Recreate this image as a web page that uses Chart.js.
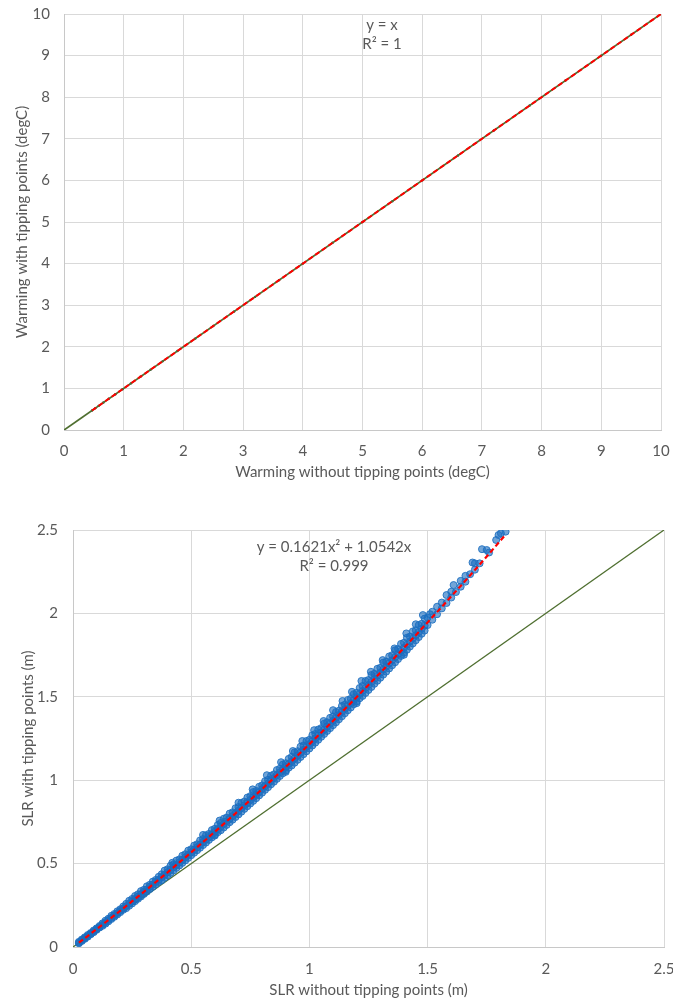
<!DOCTYPE html>
<html>
<head>
<meta charset="utf-8">
<script src="https://cdn.jsdelivr.net/npm/chart.js@4.4.1/dist/chart.umd.min.js"></script>
<style>
  html, body { margin: 0; padding: 0; background: #ffffff; }
  #wrap { position: relative; width: 673px; height: 1003px; }
  canvas { position: absolute; left: 0; }
  #warm { top: 0; }
  #slr { top: 490px; }
</style>
</head>
<body>
<div id="wrap">
  <canvas id="warm" width="673" height="490"></canvas>
  <canvas id="slr" width="673" height="513"></canvas>
</div>
<script>
// ---- Warming: with vs without tipping points (degC) ----
const warmingPairs = [
  [0.47,0.47],[0.52,0.52],[0.58,0.58],[0.66,0.66],[0.75,0.75],[0.86,0.86],[0.98,0.98],
  [1.12,1.12],[1.28,1.28],[1.45,1.45],[1.65,1.65],[1.9,1.9],[2.2,2.2],[2.5,2.5],
  [2.85,2.85],[3.2,3.2],[3.6,3.6],[4.0,4.0],[4.5,4.5],[5.0,5.0],[5.5,5.5],[6.0,6.0],
  [6.6,6.6],[7.2,7.2],[7.8,7.8],[8.4,8.4],[9.0,9.0],[9.5,9.5],[10.0,10.0]
];
const warmTicks = [0,1,2,3,4,5,6,7,8,9,10];
const warmTickLabels = ['0','1','2','3','4','5','6','7','8','9','10'];
const warmFitSlope = 1;          // y = x
const warmFitText = ['y = x', 'R\u00B2 = 1'];

// ---- Sea level rise: with vs without tipping points (m) ----
const slrPairs = [
  [0.025,0.022],[0.025,0.031],[0.0375,0.040],[0.0375,0.045],
  [0.05,0.049],[0.05,0.058],[0.0625,0.066],[0.0625,0.072],
  [0.075,0.076],[0.075,0.084],[0.0875,0.093],[0.0875,0.099],
  [0.1,0.103],[0.1,0.112],[0.1125,0.120],[0.1125,0.126],
  [0.125,0.127],[0.125,0.142],[0.1375,0.148],[0.1375,0.158],
  [0.15,0.154],[0.15,0.170],[0.1625,0.175],[0.1625,0.187],
  [0.175,0.181],[0.175,0.198],[0.1875,0.203],[0.1875,0.214],
  [0.2,0.209],[0.2,0.226],[0.2125,0.231],[0.2125,0.243],
  [0.225,0.233],[0.225,0.259],[0.2375,0.259],[0.2375,0.277],
  [0.25,0.261],[0.25,0.288],[0.2625,0.288],[0.2625,0.306],
  [0.275,0.289],[0.275,0.316],[0.2875,0.316],[0.2875,0.335],
  [0.3,0.318],[0.3,0.343],[0.3125,0.345],[0.3125,0.364],
  [0.325,0.347],[0.325,0.373],[0.3375,0.374],[0.3375,0.392],
  [0.35,0.376],[0.35,0.402],[0.3625,0.403],[0.3625,0.421],
  [0.375,0.400],[0.375,0.436],[0.3875,0.433],[0.3875,0.458],
  [0.4,0.430],[0.4,0.466],[0.4125,0.462],[0.4125,0.487],
  [0.425,0.459],[0.425,0.495],[0.4375,0.492],[0.4375,0.518],
  [0.45,0.489],[0.45,0.525],[0.4625,0.522],[0.4625,0.547],
  [0.475,0.519],[0.475,0.556],[0.4875,0.552],[0.4875,0.578],
  [0.5,0.550],[0.5,0.586],[0.5125,0.583],[0.5125,0.608],
  [0.525,0.580],[0.525,0.616],[0.5375,0.613],[0.5375,0.639],
  [0.55,0.611],[0.55,0.647],[0.5625,0.644],[0.5625,0.670],
  [0.575,0.642],[0.575,0.678],[0.5875,0.675],[0.5875,0.701],
  [0.6,0.673],[0.6,0.709],[0.6125,0.706],[0.6125,0.732],
  [0.625,0.700],[0.625,0.744],[0.6375,0.738],[0.6375,0.769],
  [0.65,0.732],[0.65,0.776],[0.6625,0.769],[0.6625,0.800],
  [0.675,0.763],[0.675,0.807],[0.6875,0.801],[0.6875,0.832],
  [0.7,0.795],[0.7,0.839],[0.7125,0.833],[0.7125,0.864],
  [0.725,0.828],[0.725,0.872],[0.7375,0.865],[0.7375,0.896],
  [0.75,0.860],[0.75,0.904],[0.7625,0.898],[0.7625,0.929],
  [0.775,0.892],[0.775,0.936],[0.7875,0.930],[0.7875,0.961],
  [0.8,0.925],[0.8,0.969],[0.8125,0.963],[0.8125,0.994],
  [0.825,0.958],[0.825,1.002],[0.8375,0.996],[0.8375,1.027],
  [0.85,0.991],[0.85,1.035],[0.8625,1.030],[0.8625,1.061],
  [0.875,1.025],[0.875,1.069],[0.8875,1.063],[0.8875,1.094],
  [0.9,1.058],[0.9,1.102],[0.9125,1.097],[0.9125,1.128],
  [0.925,1.088],[0.925,1.140],[0.9375,1.131],[0.9375,1.167],
  [0.95,1.122],[0.95,1.174],[0.9625,1.165],[0.9625,1.201],
  [0.975,1.156],[0.975,1.208],[0.9875,1.199],[0.9875,1.235],
  [1.0,1.190],[1.0,1.242],[1.0125,1.234],[1.0125,1.270],
  [1.025,1.225],[1.025,1.277],[1.0375,1.268],[1.0375,1.304],
  [1.05,1.260],[1.05,1.312],[1.0625,1.303],[1.0625,1.339],
  [1.075,1.295],[1.075,1.347],[1.0875,1.338],[1.0875,1.374],
  [1.1,1.330],[1.1,1.382],[1.1125,1.373],[1.1125,1.409],
  [1.125,1.365],[1.125,1.417],[1.1375,1.409],[1.1375,1.445],
  [1.15,1.401],[1.15,1.453],[1.1625,1.445],[1.1625,1.481],
  [1.175,1.436],[1.175,1.488],[1.1875,1.480],[1.1875,1.516],
  [1.2,1.472],[1.2,1.524],[1.2125,1.517],[1.2125,1.553],
  [1.225,1.505],[1.225,1.565],[1.2375,1.553],[1.2375,1.595],
  [1.25,1.541],[1.25,1.601],[1.2625,1.589],[1.2625,1.631],
  [1.275,1.578],[1.275,1.638],[1.2875,1.626],[1.2875,1.668],
  [1.3,1.614],[1.3,1.674],[1.3125,1.663],[1.3125,1.705],
  [1.325,1.651],[1.325,1.711],[1.3375,1.700],[1.3375,1.742],
  [1.35,1.689],[1.35,1.749],[1.3625,1.737],[1.3625,1.779],
  [1.375,1.726],[1.375,1.786],[1.3875,1.775],[1.3875,1.817],
  [1.4,1.764],[1.4,1.824],[1.4125,1.812],[1.4125,1.854],
  [1.425,1.801],[1.425,1.861],[1.4375,1.850],[1.4375,1.892],
  [1.45,1.839],[1.45,1.899],[1.4625,1.888],[1.4625,1.930],
  [1.475,1.878],[1.475,1.938],[1.4875,1.927],[1.4875,1.969],
  // runs lying close to the fitted curve
  [0.025,0.026],[0.0375,0.036],[0.05,0.053],[0.0625,0.062],[0.075,0.080],[0.0875,0.089],
  [0.1,0.107],[0.1125,0.117],[0.125,0.134],[0.1375,0.140],[0.15,0.162],[0.1625,0.168],
  [0.175,0.189],[0.1875,0.195],[0.2,0.217],[0.2125,0.223],[0.225,0.245],[0.2375,0.247],
  [0.25,0.274],[0.2625,0.275],[0.275,0.302],[0.2875,0.303],[0.3,0.331],[0.3125,0.332],
  [0.325,0.360],[0.3375,0.361],[0.35,0.389],[0.3625,0.390],[0.375,0.418],[0.3875,0.415],
  [0.4,0.448],[0.4125,0.444],[0.425,0.477],[0.4375,0.474],[0.45,0.507],[0.4625,0.504],
  [0.475,0.537],[0.4875,0.534],[0.5,0.568],[0.5125,0.565],[0.525,0.598],[0.5375,0.595],
  [0.55,0.629],[0.5625,0.626],[0.575,0.660],[0.5875,0.657],[0.6,0.691],[0.6125,0.688],
  [0.625,0.722],[0.6375,0.716],[0.65,0.754],[0.6625,0.748],[0.675,0.785],[0.6875,0.779],
  [0.7,0.817],[0.7125,0.811],[0.725,0.850],[0.7375,0.844],[0.75,0.882],[0.7625,0.876],
  [0.775,0.914],[0.7875,0.909],[0.8,0.947],[0.8125,0.942],[0.825,0.980],[0.8375,0.975],
  [0.85,1.013],[0.8625,1.008],[0.875,1.047],[0.8875,1.041],[0.9,1.080],[0.9125,1.075],
  [0.925,1.114],[0.9375,1.105],[0.95,1.148],[0.9625,1.139],[0.975,1.182],[0.9875,1.173],
  [1.0,1.216],[1.0125,1.208],[1.025,1.251],[1.0375,1.242],[1.05,1.286],[1.0625,1.277],
  [1.075,1.321],[1.0875,1.312],[1.1,1.356],[1.1125,1.347],[1.125,1.391],[1.1375,1.383],
  [1.15,1.427],[1.1625,1.419],[1.175,1.462],[1.1875,1.455],[1.2,1.498],[1.2125,1.491],
  [1.225,1.535],[1.2375,1.523],[1.25,1.571],[1.2625,1.559],[1.275,1.608],[1.2875,1.596],
  [1.3,1.644],[1.3125,1.633],[1.325,1.681],[1.3375,1.670],[1.35,1.719],[1.3625,1.707],
  [1.375,1.756],[1.3875,1.745],[1.4,1.794],[1.4125,1.782],[1.425,1.831],[1.4375,1.820],
  [1.45,1.869],[1.4625,1.858],[1.475,1.908],[1.4875,1.897],
  // sparse upper tail
  [1.5,1.930],[1.5,1.975],[1.51,1.995],[1.52,1.962],[1.52,2.010],
  [1.54,1.995],[1.54,2.040],[1.56,2.030],[1.56,2.065],[1.58,2.062],[1.58,2.110],
  [1.6,2.095],[1.6,2.130],[1.62,2.128],[1.61,2.170],[1.64,2.160],[1.64,2.195],
  [1.66,2.190],[1.66,2.225],[1.68,2.235],[1.69,2.305],[1.7,2.300],[1.7,2.262],
  [1.72,2.300],[1.73,2.385],[1.75,2.380],[1.76,2.365],[1.79,2.440],
  [1.8,2.470],[1.81,2.480],[1.83,2.490],
  // scattered runs above and below the band
  [0.42,0.505],[0.55,0.672],[0.62,0.758],[0.7,0.865],[0.76,0.945],[0.82,1.030],
  [0.88,1.108],[0.93,1.175],[0.97,1.235],[1.02,1.300],[1.06,1.355],[1.1,1.420],
  [1.14,1.475],[1.18,1.530],[1.22,1.595],[1.26,1.650],[1.31,1.720],[1.36,1.790],
  [1.41,1.880],[1.45,1.935],[1.48,1.990],
  [0.6,0.668],[0.9,1.050],[1.2,1.462],[1.4,1.752]
];
const slrTicks = [0,0.5,1,1.5,2,2.5];
const slrTickLabels = ['0','0.5','1','1.5','2','2.5'];
const slrFitA = 0.1621;   // x^2 coefficient
const slrFitB = 1.0542;   // x coefficient
const slrFitText = ['y = 0.1621x\u00B2 + 1.0542x', 'R\u00B2 = 0.999'];

// ---- shared styling ----
const FONT = 'Lato, "Open Sans", sans-serif';
const FONT_SIZE = 15;
const TEXT = '#595959';
const GRID = '#d9d9d9';
const AXIS = '#c8c8c8';
const GREEN = '#4F6F30';
const RED = '#FF0000';

const toPoints = pairs => pairs.map(p => ({ x: p[0], y: p[1] }));

function fitCurve(pairs, fn, steps) {
  const xs = pairs.map(p => p[0]);
  const lo = Math.min(...xs), hi = Math.max(...xs);
  const pts = [];
  for (let i = 0; i <= steps; i++) {
    const x = lo + (hi - lo) * i / steps;
    pts.push({ x, y: fn(x) });
  }
  return pts;
}

function equationPlugin(lines, positions) {
  return {
    id: 'equationText',
    afterDraw(chart) {
      const c = chart.ctx;
      c.save();
      c.font = FONT_SIZE + 'px ' + FONT;
      c.fillStyle = TEXT;
      c.textAlign = 'center';
      c.textBaseline = 'middle';
      lines.forEach((t, i) => c.fillText(t, positions[i][0], positions[i][1]));
      c.restore();
    }
  };
}

function axisOptions(o) {
  const isX = o.dir === 'x';
  return {
    type: 'linear',
    min: o.ticks[0],
    max: o.ticks[o.ticks.length - 1],
    afterBuildTicks: s => { s.ticks = o.ticks.map(v => ({ value: v })); },
    afterFit: s => {
      // fixed axis box; edge labels may overhang the plot margins
      if (isX) { s.height = o.box; s.paddingLeft = 0; s.paddingRight = 0; }
      else { s.width = o.box; s.paddingTop = 0; s.paddingBottom = 0; }
    },
    ticks: {
      color: TEXT,
      font: { family: FONT, size: FONT_SIZE },
      padding: o.tickPad,
      maxRotation: 0,
      autoSkip: false,
      callback: (v, i) => o.labels[i]
    },
    grid: { color: GRID, lineWidth: 1, drawTicks: false },
    border: { color: AXIS, width: 1 },
    title: {
      display: true,
      text: o.title,
      color: TEXT,
      font: { family: FONT, size: FONT_SIZE },
      padding: o.titlePad
    }
  };
}

const baseOptions = {
  responsive: false,
  animation: false,
  devicePixelRatio: 1,
  plugins: { legend: { display: false }, tooltip: { enabled: false } }
};

// Top panel: warming
new Chart(document.getElementById('warm'), {
  type: 'scatter',
  data: {
    datasets: [
      {
        label: 'Linear fit',
        data: fitCurve(warmingPairs, x => warmFitSlope * x, 2),
        showLine: true, borderColor: RED, borderWidth: 2, borderDash: [5, 3],
        pointRadius: 0, fill: false
      },
      {
        label: '1:1',
        data: [{ x: 0, y: 0 }, { x: 10, y: 10 }],
        showLine: true, borderColor: GREEN, borderWidth: 1.8, pointRadius: 0, fill: false
      },
      {
        label: 'Runs',
        data: toPoints(warmingPairs),
        pointRadius: 1.2, backgroundColor: '#3b4a3b', borderWidth: 0
      }
    ]
  },
  options: Object.assign({}, baseOptions, {
    layout: { padding: { top: 14, right: 12, left: 0, bottom: 0 } },
    scales: {
      x: axisOptions({ dir: 'x', ticks: warmTicks, labels: warmTickLabels, box: 60, tickPad: 12,
        title: 'Warming without tipping points (degC)', titlePad: { top: 0, bottom: 9 } }),
      y: axisOptions({ dir: 'y', ticks: warmTicks, labels: warmTickLabels, box: 64, tickPad: 14,
        title: 'Warming with tipping points (degC)', titlePad: { top: 13, bottom: 0 } })
    }
  }),
  plugins: [equationPlugin(warmFitText, [[382, 25], [382, 44]])]
});

// Bottom panel: sea level rise
new Chart(document.getElementById('slr'), {
  type: 'scatter',
  data: {
    datasets: [
      {
        label: 'Polynomial fit',
        data: fitCurve(slrPairs, x => slrFitA * x * x + slrFitB * x, 80),
        showLine: true, borderColor: RED, borderWidth: 2.2, borderDash: [5, 3],
        pointRadius: 0, fill: false
      },
      {
        label: 'Runs',
        data: toPoints(slrPairs),
        pointRadius: 3.5,
        backgroundColor: 'rgba(28,110,192,0.62)',
        borderColor: 'rgba(28,110,192,0.85)',
        borderWidth: 1
      },
      {
        label: '1:1',
        data: [{ x: 0, y: 0 }, { x: 2.5, y: 2.5 }],
        showLine: true, borderColor: GREEN, borderWidth: 1.3, pointRadius: 0, fill: false
      }
    ]
  },
  options: Object.assign({}, baseOptions, {
    layout: { padding: { top: 40, right: 9, left: 0, bottom: 0 } },
    scales: {
      x: axisOptions({ dir: 'x', ticks: slrTicks, labels: slrTickLabels, box: 56, tickPad: 13,
        title: 'SLR without tipping points (m)', titlePad: { top: 0, bottom: 4 } }),
      y: axisOptions({ dir: 'y', ticks: slrTicks, labels: slrTickLabels, box: 73, tickPad: 15,
        title: 'SLR with tipping points (m)', titlePad: { top: 19, bottom: 0 } })
    }
  }),
  plugins: [equationPlugin(slrFitText, [[334, 57], [334, 76]])]
});
</script>
</body>
</html>
